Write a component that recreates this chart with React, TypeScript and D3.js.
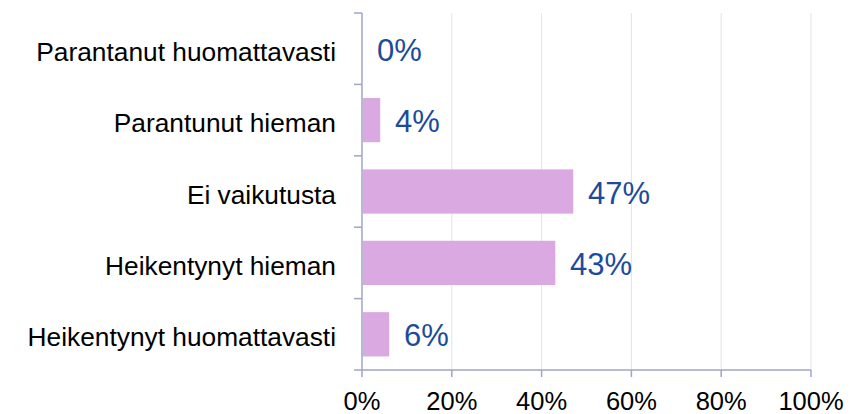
import React from "react";
import * as d3 from "d3";

const categories = [
  "Parantanut huomattavasti",
  "Parantunut hieman",
  "Ei vaikutusta",
  "Heikentynyt hieman",
  "Heikentynyt huomattavasti",
];
const values = [0, 4, 47, 43, 6];
const ticks = [0, 20, 40, 60, 80, 100];

const W = 853;
const H = 414;
const left = 362;
const right = 811;
const top = 13;
const bottom = 370;
const font = "'Liberation Sans', Arial, sans-serif";

export default function App() {
  const x = d3.scaleLinear().domain([0, 100]).range([left, right]);
  const y = d3
    .scaleBand<string>()
    .domain(categories)
    .range([top, bottom])
    .paddingInner(0.38)
    .paddingOuter(0.19);
  const yb = d3.scaleBand<string>().domain(categories).range([top, bottom]);
  const axisColor = "#9fa5c4";
  const gridColor = "#dfe3ef";
  return (
    <div style={{ position: "fixed", left: 0, top: 0 }}>
      <svg width={W} height={H} style={{ display: "block", background: "#fff" }}>
        {ticks.slice(1).map((t) => (
          <line key={"g" + t} x1={x(t)} x2={x(t)} y1={top} y2={bottom} stroke={gridColor} strokeWidth={1} />
        ))}
        {categories.map((c, i) => (
          <rect
            key={c}
            x={x(0) + 0.75}
            y={y(c)!}
            width={Math.max(0, x(values[i]) - x(0) - 0.5)}
            height={y.bandwidth()}
            fill="#dba9e1"
          />
        ))}
        {/* left axis */}
        <line x1={left} x2={left} y1={top} y2={bottom} stroke={axisColor} strokeWidth={1.5} />
        {[...categories.map((c) => yb(c)!), bottom].map((v, i) => (
          <line key={"lt" + i} x1={left - 8} x2={left} y1={v} y2={v} stroke={axisColor} strokeWidth={1.5} />
        ))}
        {/* bottom axis */}
        <line x1={left} x2={right} y1={bottom} y2={bottom} stroke={axisColor} strokeWidth={1.5} />
        {ticks.map((t) => (
          <line key={"bt" + t} x1={x(t)} x2={x(t)} y1={bottom} y2={bottom + 7} stroke={axisColor} strokeWidth={1.5} />
        ))}
        {ticks.map((t) => (
          <text key={"tl" + t} x={x(t)} y={410} textAnchor="middle" fontFamily={font} fontSize={25.5} fill="#000">
            {t + "%"}
          </text>
        ))}
        {categories.map((c) => (
          <text
            key={"cl" + c}
            x={336}
            y={yb(c)! + yb.bandwidth() / 2 + 12}
            textAnchor="end"
            fontFamily={font}
            fontSize={26.3}
            fill="#000"
          >
            {c}
          </text>
        ))}
        {categories.map((c, i) => (
          <text
            key={"vl" + c}
            x={x(values[i]) + 15}
            y={yb(c)! + yb.bandwidth() / 2 + 12}
            fontFamily={font}
            fontSize={31}
            fill="#1d4b9b"
          >
            {values[i] + "%"}
          </text>
        ))}
      </svg>
    </div>
  );
}
